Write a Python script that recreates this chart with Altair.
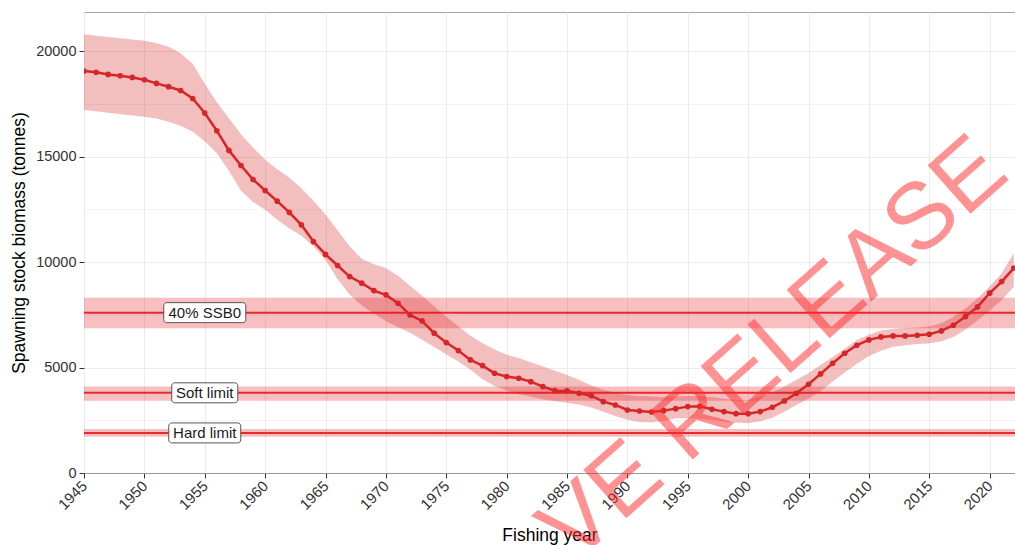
import altair as alt
import pandas as pd

# ---------------- data ----------------
years = list(range(1945, 2023))
ssb = [19050, 18990, 18890, 18830, 18750, 18640, 18465, 18310, 18130, 17750,
       17060, 16220, 15290, 14575, 13910, 13390, 12885, 12350, 11760, 10970,
       10360, 9833, 9311, 8997, 8647, 8443, 8047, 7494, 7209, 6626,
       6182, 5803, 5360, 5091, 4729, 4569, 4490, 4330, 4093, 3903,
       3889, 3780, 3666, 3382, 3225, 2988, 2940, 2893, 2956, 3051,
       3146, 3160, 3020, 2909, 2814, 2814, 2909, 3115, 3415, 3780,
       4207, 4696, 5203, 5677, 6057, 6308, 6450, 6498, 6498, 6529,
       6577, 6735, 7004, 7414, 7873, 8523, 9073, 9709]
ssb_upper = [20790, 20730, 20670, 20610, 20550, 20490, 20380, 20200, 19900, 19400,
             18450, 17570, 16820, 16050, 15420, 14850, 14400, 14000, 13500, 12900,
             12250, 11500, 10750, 10150, 9900, 9720, 9350, 8880, 8400, 7900,
             7400, 6950, 6500, 6150, 5850, 5600, 5450, 5250, 5050, 4850,
             4650, 4420, 4150, 3950, 3800, 3700, 3650, 3620, 3600, 3620,
             3650, 3650, 3600, 3520, 3460, 3460, 3600, 3820, 4100, 4420,
             4730, 5120, 5500, 5890, 6300, 6550, 6750, 6830, 6870, 6900,
             6950, 7100, 7400, 7800, 8280, 8840, 9470, 10420]
ssb_lower = [17200, 17150, 17080, 17000, 16950, 16880, 16800, 16650, 16460, 16170,
             15720, 15160, 14330, 13375, 12850, 12480, 12000, 11600, 11250, 10750,
             10100, 9200, 8450, 7940, 7560, 7200, 6920, 6650, 6310, 5970,
             5630, 5290, 4910, 4440, 4120, 3910, 3730, 3620, 3500, 3400,
             3330, 3250, 3100, 2900, 2700, 2520, 2420, 2390, 2480, 2600,
             2600, 2560, 2520, 2440, 2380, 2360, 2450, 2620, 2900, 3220,
             3530, 3880, 4340, 4760, 5180, 5550, 5800, 5980, 6060, 6120,
             6150, 6250, 6450, 6800, 7230, 7700, 8200, 8830]

ref_names = ["40% SSB0", "Soft limit", "Hard limit"]
ref_values = [7600, 3800, 1900]
ref_lower = [6860, 3430, 1720]
ref_upper = [8310, 4100, 2080]
label_year = 1955

x_ticks = [1945 + 2.5 * i for i in range(31)]
y_ticks = [2500 * i for i in range(9)]

watermark = "VE RELEASE"

# ---------------- styles ----------------
W, H = 931, 461
FONT = "Liberation Sans"
RED = "#d62728"
REF_RED = "#e41a1c"
BOX_W = {"40% SSB0": 82, "Soft limit": 66, "Hard limit": 72}

df = pd.DataFrame({"year": years, "ssb": ssb, "lo": ssb_lower, "hi": ssb_upper})
ref = pd.DataFrame({"name": ref_names, "v": ref_values, "lo": ref_lower, "hi": ref_upper,
                    "yr": [label_year] * len(ref_names)})

xscale = alt.Scale(domain=[1945, 2022.1], nice=False, zero=False)
yscale = alt.Scale(domain=[0, 21850], nice=False)

xaxis = alt.Axis(
    values=x_ticks, format="d", title="Fishing year",
    labelExpr="datum.value % 5 === 0 ? datum.label : ''",
    labelAngle=315, labelAlign="right", labelBaseline="middle",
    labelOverlap=False, labelFlush=False, labelPadding=5,
    labelFontSize=15, labelColor="#333333", labelFont=FONT,
    tickSize=5, tickColor="#333333",
    tickOpacity={"condition": {"test": "datum.value % 5 !== 0", "value": 0}, "value": 1},
    domain=True, domainColor="#999999",
    grid=True, gridColor="#ebebeb",
    gridWidth={"condition": {"test": "datum.value % 5 !== 0", "value": 0.6}, "value": 1},
    titleFont=FONT, titleFontSize=17.5, titleFontWeight="normal", titleColor="#000000",
    titlePadding=14,
)
yaxis = alt.Axis(
    values=y_ticks, format="d", title="Spawning stock biomass (tonnes)",
    labelExpr="datum.value % 5000 === 0 ? datum.label : ''",
    labelOverlap=False, labelFlush=False, labelPadding=3,
    labelFontSize=14.5, labelColor="#333333", labelFont=FONT,
    tickSize=5, tickColor="#333333",
    tickOpacity={"condition": {"test": "datum.value % 5000 !== 0", "value": 0}, "value": 1},
    domain=False,
    grid=True, gridColor="#ebebeb",
    gridWidth={"condition": {"test": "datum.value % 5000 !== 0", "value": 0.6}, "value": 1},
    titleFont=FONT, titleFontSize=17.5, titleFontWeight="normal", titleColor="#000000",
    titlePadding=7,
)

base = alt.Chart(df)

band = base.mark_area(color=RED, opacity=0.3, clip=True).encode(
    x=alt.X("year:Q", scale=xscale, axis=xaxis),
    y=alt.Y("lo:Q", scale=yscale, axis=yaxis),
    y2="hi:Q",
)
line = base.mark_line(color=RED, strokeWidth=2.5, clip=True).encode(
    x=alt.X("year:Q", scale=xscale), y=alt.Y("ssb:Q", scale=yscale))
pts = base.mark_circle(color=RED, size=32, opacity=1, clip=True).encode(
    x=alt.X("year:Q", scale=xscale), y=alt.Y("ssb:Q", scale=yscale))

rbase = alt.Chart(ref)
ref_band = rbase.mark_rect(color=REF_RED, opacity=0.28).encode(
    x=alt.value(0), x2=alt.value(W),
    y=alt.Y("lo:Q", scale=yscale), y2="hi:Q")
ref_line = rbase.mark_rule(color=REF_RED, strokeWidth=2, opacity=0.9).encode(
    y=alt.Y("v:Q", scale=yscale))

boxes = []
for nm in ref_names:
    w = BOX_W[nm]
    boxes.append(
        alt.Chart(ref[ref["name"] == nm]).mark_rect(
            fill="white", stroke="#555555", strokeWidth=1, cornerRadius=3,
            xOffset=-w / 2, x2Offset=w / 2, yOffset=-10, y2Offset=10,
        ).encode(
            x=alt.X("yr:Q", scale=xscale), x2="yr:Q",
            y=alt.Y("v:Q", scale=yscale), y2="v:Q",
        )
    )
labels = rbase.mark_text(font=FONT, fontSize=15, color="#1a1a1a",
                         baseline="middle", align="center").encode(
    x=alt.X("yr:Q", scale=xscale), y=alt.Y("v:Q", scale=yscale), text="name:N")

wm = alt.Chart(pd.DataFrame({"t": [watermark]})).mark_text(
    font=FONT, fontSize=94, color="#ff2a2a", opacity=0.5,
    angle=318.5, align="center", baseline="middle",
).encode(x=alt.value(690), y=alt.value(338), text="t:N")

chart = alt.layer(band, ref_band, ref_line, line, pts, *boxes, labels, wm).properties(
    width=W, height=H,
    autosize=alt.AutoSizeParams(type="none"),
    padding={"left": 84, "top": 12, "right": 0, "bottom": 72},
).configure_view(stroke="#a6a6a6", strokeWidth=1)

chart.save("out.html", embed_options={"renderer": "svg", "actions": False})
